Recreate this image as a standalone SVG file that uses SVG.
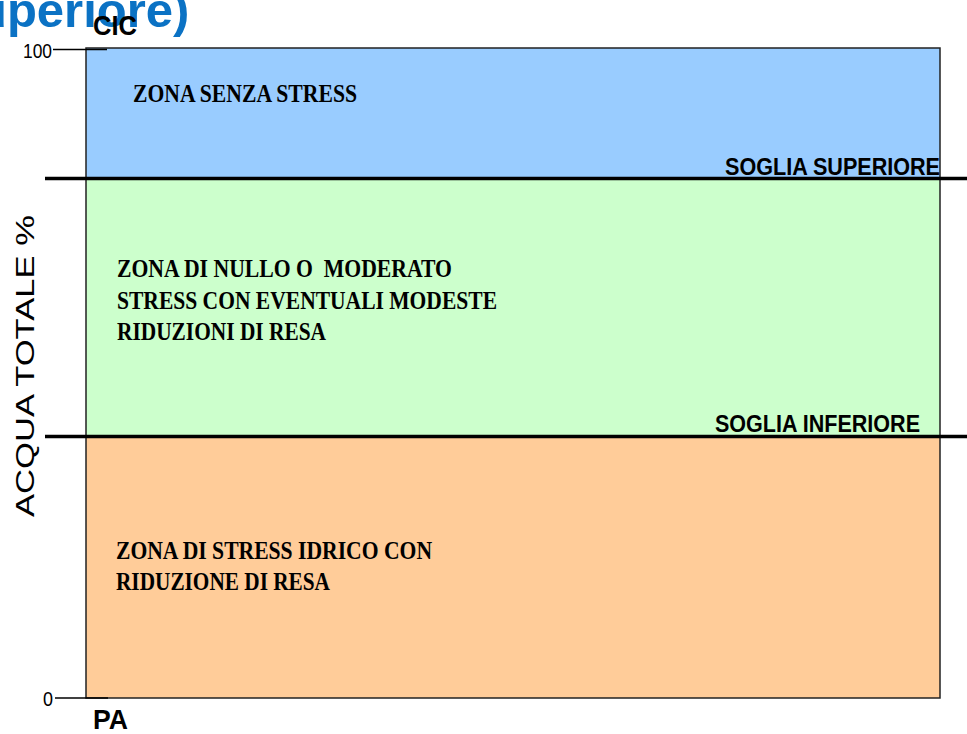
<svg xmlns="http://www.w3.org/2000/svg" width="967" height="734" viewBox="0 0 967 734">
<style>
.zone{font-family:"Liberation Serif","Times New Roman",serif;font-weight:bold;font-size:25px;fill:#000;white-space:pre}
.lbl{font-family:"Liberation Sans",Arial,sans-serif;font-weight:bold;fill:#000}
.num{font-family:"Liberation Sans",Arial,sans-serif;fill:#000}
.thick{stroke:#000;stroke-width:3.5}
.tick{stroke:#000;stroke-width:1.3}
</style>
<rect width="967" height="734" fill="#fff"/>
<g id="title">
<text x="-23" y="27" font-family="'Liberation Sans',Arial,sans-serif" font-weight="bold" font-size="49" fill="#0B72C4">uperiore)</text>
</g>
<g id="zone-senza-stress">
<rect x="86" y="48" width="854" height="130" fill="#99CCFF"/>
<text class="zone" x="133" y="102" textLength="224" lengthAdjust="spacingAndGlyphs">ZONA SENZA STRESS</text>
</g>
<g id="zone-moderato">
<rect x="86" y="178" width="854" height="259" fill="#CCFFCC"/>
<text class="zone" x="117" y="277" textLength="335" lengthAdjust="spacingAndGlyphs" xml:space="preserve">ZONA DI NULLO O  MODERATO</text>
<text class="zone" x="117" y="309" textLength="380" lengthAdjust="spacingAndGlyphs">STRESS CON EVENTUALI MODESTE</text>
<text class="zone" x="117" y="340" textLength="209" lengthAdjust="spacingAndGlyphs">RIDUZIONI DI RESA</text>
</g>
<g id="zone-stress">
<rect x="86" y="437" width="854" height="261" fill="#FFCC99"/>
<text class="zone" x="116" y="559" textLength="316" lengthAdjust="spacingAndGlyphs">ZONA DI STRESS IDRICO CON</text>
<text class="zone" x="116" y="590" textLength="214" lengthAdjust="spacingAndGlyphs">RIDUZIONE DI RESA</text>
</g>
<rect id="frame" x="86" y="48" width="854" height="650" fill="none" stroke="#222" stroke-width="1.5"/>
<g id="connectors">
<line class="thick" x1="45" y1="178.5" x2="967" y2="178.5"/>
<line class="thick" x1="45" y1="436.5" x2="967" y2="436.5"/>
<line class="tick" x1="53" y1="49.5" x2="107" y2="49.5"/>
<line class="tick" x1="55" y1="698" x2="108" y2="698"/>
</g>
<g id="soglia-superiore">
<text class="lbl" x="725" y="175" font-size="23" textLength="215" lengthAdjust="spacingAndGlyphs">SOGLIA SUPERIORE</text>
</g>
<g id="soglia-inferiore">
<text class="lbl" x="715" y="432" font-size="23.5" textLength="205" lengthAdjust="spacingAndGlyphs">SOGLIA INFERIORE</text>
</g>
<g id="axis">
<text class="lbl" x="93" y="35" font-size="27" textLength="44" lengthAdjust="spacingAndGlyphs">CIC</text>
<text class="lbl" x="93" y="729" font-size="28" textLength="35" lengthAdjust="spacingAndGlyphs">PA</text>
<text class="num" x="23" y="58" font-size="20" textLength="29" lengthAdjust="spacingAndGlyphs">100</text>
<text class="num" x="43" y="706" font-size="20" textLength="10" lengthAdjust="spacingAndGlyphs">0</text>
<text transform="translate(34,366) rotate(-90)" text-anchor="middle" font-family="'Liberation Sans',Arial,sans-serif" font-size="26" textLength="302" lengthAdjust="spacingAndGlyphs">ACQUA TOTALE %</text>
</g>
</svg>
